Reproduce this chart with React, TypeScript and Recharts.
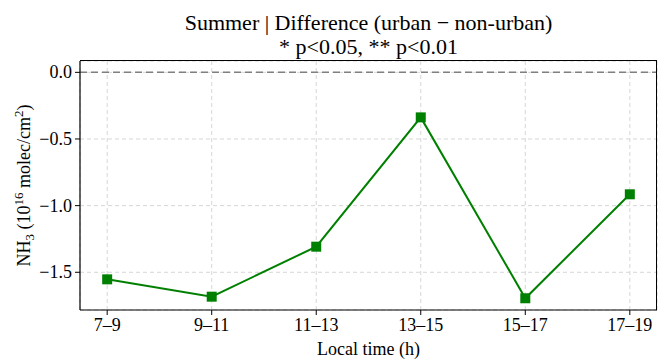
import React from 'react';
import { LineChart, Line, XAxis, YAxis, CartesianGrid, ReferenceLine } from 'recharts';

const hours = ['7–9', '9–11', '11–13', '13–15', '15–17', '17–19'];
const diffValues = [-1.553, -1.683, -1.308, -0.338, -1.695, -0.915];
const yTicks = [-1.5, -1.0, -0.5, 0.0];
const xTicks = [0, 1, 2, 3, 4, 5];

const data = hours.map((t, i) => ({ i, t, v: diffValues[i] }));

const FONT = '"Liberation Serif", "Times New Roman", serif';
const GREEN = '#008000';
const CHART_W = 658;
const CHART_H = 360;
const MARGIN_TOP = 61;
const Y_AXIS_W = 80;
const X_AXIS_H = 50;
const X_DOMAIN: [number, number] = [-0.26, 5.26];
const Y_DOMAIN: [number, number] = [-1.783, 0.085];
const serif = { fontFamily: FONT };

const fmt = (v: number) => (v < 0 ? '−' + Math.abs(v).toFixed(1) : v.toFixed(1));

function SquareDot(props: any) {
  const { cx, cy } = props;
  if (cx == null || cy == null) return null;
  return <rect x={cx - 5} y={cy - 5} width={10} height={10} fill={GREEN} />;
}

function XTick(props: any) {
  const { x, y, payload } = props;
  return (
    <text x={x} y={y + 13} textAnchor="middle" style={serif} fontSize={18} fill="#000">
      {hours[payload.value]}
    </text>
  );
}

function YTick(props: any) {
  const { x, y, payload } = props;
  return (
    <text x={x} y={y + 6} textAnchor="end" style={serif} fontSize={18} fill="#000">
      {fmt(payload.value)}
    </text>
  );
}

// left-axis label plus the two title lines
function YLabel() {
  const top = MARGIN_TOP;
  const bottom = CHART_H - X_AXIS_H;
  const left = Y_AXIS_W;
  const right = CHART_W - 1;
  const x = 30;
  const y = (top + bottom) / 2;
  const cx = (left + right) / 2;
  return (
    <g>
      <text x={cx} y={30} textAnchor="middle" fontSize={22} fill="#000" style={serif}>Summer | Difference (urban − non-urban)</text>
      <text x={cx} y={54} textAnchor="middle" fontSize={22} fill="#000" style={serif}>* p&lt;0.05, ** p&lt;0.01</text>
      <text x={x} y={y} transform={`rotate(-90, ${x}, ${y})`} textAnchor="middle" fontSize={18} fill="#000" style={serif}>
        NH<tspan dy={4} fontSize={13}>3</tspan>
        <tspan dy={-4}> (10</tspan>
        <tspan dy={-7} fontSize={13}>16</tspan>
        <tspan dy={7}> molec/cm</tspan>
        <tspan dy={-7} fontSize={13}>2</tspan>
        <tspan dy={7}>)</tspan>
      </text>
    </g>
  );
}

export default function App() {
  return (
    <div style={{ position: 'absolute', left: 0, top: 0, width: CHART_W, height: CHART_H, background: '#fff' }}>
      <LineChart width={CHART_W} height={CHART_H} data={data} margin={{ top: MARGIN_TOP, right: 1, bottom: 0, left: 0 }}>
        <CartesianGrid stroke="#d6d6d6" strokeDasharray="4 3" strokeWidth={1} />
        <XAxis
          dataKey="i"
          type="number"
          domain={X_DOMAIN}
          ticks={xTicks}
          allowDataOverflow
          height={X_AXIS_H}
          tick={<XTick />}
          tickSize={5}
          tickMargin={3}
          axisLine={{ stroke: '#000', strokeWidth: 1.2 }}
          tickLine={{ stroke: '#000' }}
          label={{ value: 'Local time (h)', position: 'insideBottom', offset: 5, style: { fontFamily: FONT, fontSize: 18, fill: '#000' } }}
        />
        <YAxis
          type="number"
          domain={Y_DOMAIN}
          allowDataOverflow
          ticks={yTicks}
          width={Y_AXIS_W}
          tick={<YTick />}
          tickSize={5}
          tickMargin={3}
          axisLine={{ stroke: '#000', strokeWidth: 1.2 }}
          tickLine={{ stroke: '#000' }}
          label={{ content: YLabel }}
        />
        <ReferenceLine y={0} stroke="#808080" strokeWidth={1.5} strokeDasharray="7 4" />
        <Line
          type="linear"
          dataKey="v"
          stroke={GREEN}
          strokeWidth={2}
          dot={<SquareDot />}
          activeDot={false}
          isAnimationActive={false}
        />
      </LineChart>
      {/* plot frame (top and right spines) as a plain overlay box */}
      <div
        style={{
          position: 'absolute',
          left: Y_AXIS_W,
          top: MARGIN_TOP - 1,
          width: CHART_W - 1 - Y_AXIS_W,
          height: CHART_H - X_AXIS_H - MARGIN_TOP + 1,
          borderTop: '1px solid #000',
          borderRight: '1px solid #000',
          boxSizing: 'border-box',
          pointerEvents: 'none',
        }}
      />
    </div>
  );
}
